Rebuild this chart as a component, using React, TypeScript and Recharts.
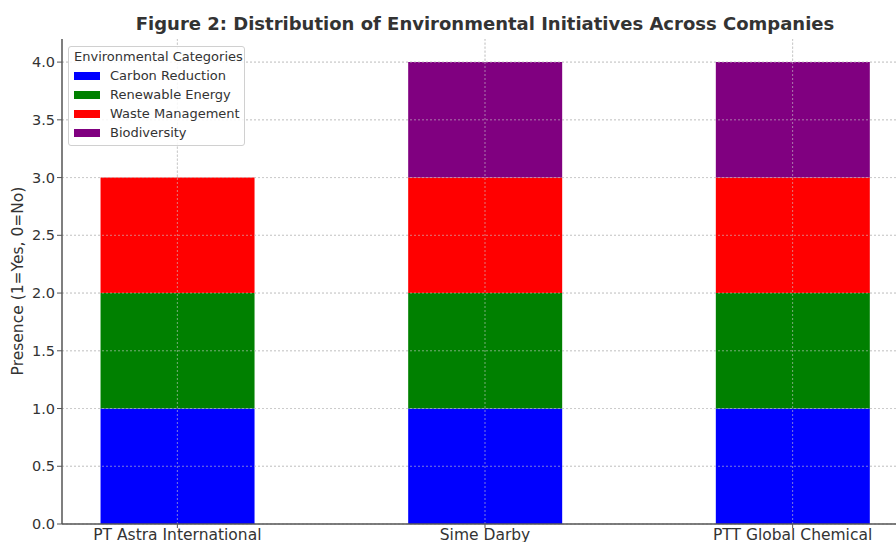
import React from 'react';
import { BarChart, Bar, XAxis, YAxis, CartesianGrid, ReferenceLine } from 'recharts';

const companies = ['PT Astra International', 'Sime Darby', 'PTT Global Chemical'];
const carbonReduction = [1, 1, 1];
const renewableEnergy = [1, 1, 1];
const wasteManagement = [1, 1, 1];
const biodiversity = [0, 1, 1];
const yTicks = [0, 0.5, 1, 1.5, 2, 2.5, 3, 3.5, 4];

const seriesInfo = [
  { key: 'carbon', name: 'Carbon Reduction', color: '#0000FF' },
  { key: 'renewable', name: 'Renewable Energy', color: '#008000' },
  { key: 'waste', name: 'Waste Management', color: '#FF0000' },
  { key: 'bio', name: 'Biodiversity', color: '#800080' },
];

const data = companies.map((c, i) => ({
  idx: i,
  name: c,
  carbon: carbonReduction[i],
  renewable: renewableEnergy[i],
  waste: wasteManagement[i],
  bio: biodiversity[i],
}));

const FONT = '"DejaVu Sans", sans-serif';
const TXT = '#333333';

const LegendBox = () => (
  <div
    style={{
      position: 'absolute',
      left: 68,
      top: 46,
      width: 177,
      height: 100,
      boxSizing: 'border-box',
      border: '1px solid #d0d0d0',
      borderRadius: 3,
      background: 'rgba(255,255,255,0.85)',
      padding: '0 0 0 5px',
      fontFamily: FONT,
      fontSize: 13,
      color: TXT,
      lineHeight: '19px',
      whiteSpace: 'nowrap',
    }}
  >
    <div style={{ lineHeight: '19px' }}>Environmental Categories</div>
    {seriesInfo.map((s) => (
      <div key={s.key} style={{ display: 'flex', alignItems: 'center', height: 19 }}>
        <span style={{ display: 'inline-block', width: 26, height: 8, background: s.color, marginRight: 10 }} />
        <span>{s.name}</span>
      </div>
    ))}
  </div>
);

export default function App() {
  return (
    <div style={{ position: 'absolute', left: 0, top: 0, width: 896, height: 542, overflow: 'hidden', background: '#fff' }}>
      <BarChart
        width={912}
        height={570}
        data={data}
        margin={{ top: 39, right: 4, bottom: 0, left: 0 }}
      >
        <text x={485} y={30} textAnchor="middle" fontFamily={FONT} fontWeight="bold" fontSize={18} fill={TXT}>
          Figure 2: Distribution of Environmental Initiatives Across Companies
        </text>
        <CartesianGrid stroke="#cccccc" strokeDasharray="2 2" horizontalValues={yTicks} verticalValues={[0, 1, 2]} />
        <XAxis
          type="number"
          dataKey="idx"
          domain={[-0.375, 2.375]}
          ticks={[0, 1, 2]}
          allowDataOverflow
          tickFormatter={(v: number) => companies[v] ?? ''}
          height={46}
          tick={{ fontFamily: FONT, fontSize: 15.5, fill: TXT }}
          tickLine={{ stroke: '#555' }}
          tickSize={4}
          tickMargin={1}
          axisLine={{ stroke: '#555', strokeWidth: 1.5 }}
          interval={0}
        />
        <YAxis
          type="number"
          domain={[0, 4.2]}
          ticks={yTicks}
          allowDataOverflow
          width={62}
          tickFormatter={(v: number) => v.toFixed(1)}
          tick={{ fontFamily: FONT, fontSize: 14.5, fill: TXT }}
          tickLine={{ stroke: '#555' }}
          tickSize={5}
          axisLine={{ stroke: '#555', strokeWidth: 1.5 }}
          label={() => (
            <text
              x={18}
              y={281}
              transform="rotate(-90, 18, 281)"
              textAnchor="middle"
              dominantBaseline="central"
              fontFamily={FONT}
              fontSize={15.5}
              fill={TXT}
            >
              Presence (1=Yes, 0=No)
            </text>
          )}
        />
        {seriesInfo.map((s) => (
          <Bar key={s.key} dataKey={s.key} name={s.name} stackId="a" fill={s.color} barSize={154} isAnimationActive={false} />
        ))}
        {yTicks.slice(1).map((t) => (
          <ReferenceLine key={'h' + t} y={t} stroke="#cccccc" strokeOpacity={0.6} strokeDasharray="2 2" />
        ))}
        {[0, 1, 2].map((t) => (
          <ReferenceLine key={'v' + t} x={t} stroke="#cccccc" strokeOpacity={0.6} strokeDasharray="2 2" />
        ))}
      </BarChart>
      <LegendBox />
    </div>
  );
}
